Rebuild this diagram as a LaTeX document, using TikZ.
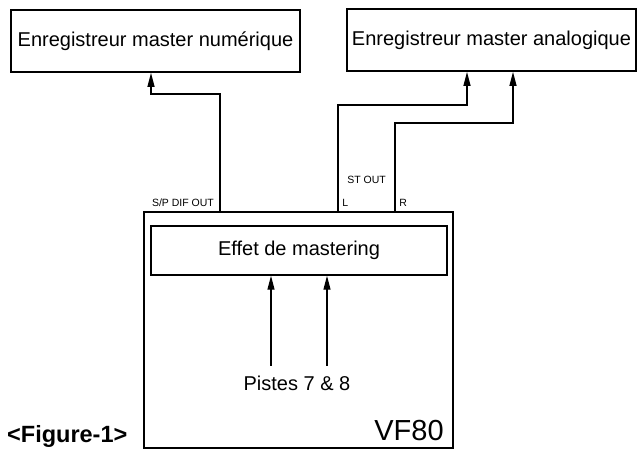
\documentclass[tikz,border=0pt]{standalone}
\usepackage{fontspec}
\setmainfont{Liberation Sans}
\usetikzlibrary{arrows.meta,positioning}

\begin{document}
\begin{tikzpicture}[
  x=1pt, y=1pt,
  font=\fontsize{20}{24}\selectfont,
  box/.style={draw, line width=1.8pt, inner sep=0pt, minimum width=289pt, minimum height=62pt},
  arr/.style={-{Triangle[length=14pt, width=7pt]}, line width=1.3pt},
  lbl/.style={font=\fontsize{10.5}{12}\selectfont, inner sep=0pt}
]
\useasboundingbox (0,0) rectangle (642,454);

% recorders
\node[box] (numbox) at (155.5,413) {Enregistreur master num\'erique};
\node[box] (anabox) at (491.5,414) {Enregistreur master analogique};

% VF80 unit
\node[draw, line width=1.8pt, minimum width=309pt, minimum height=236pt, inner sep=0pt] (vfbox) at (298.5,124) {};
\node[draw, line width=1.5pt, minimum width=296pt, minimum height=49pt, inner sep=0pt] (effbox) at (299,203.5) {Effet de mastering};
\node[anchor=base east, font=\fontsize{29}{32}\selectfont, inner sep=0pt] (vfname) at ([xshift=-10pt, yshift=8pt]vfbox.south east) {VF80};
\node[inner sep=0pt] (pistes) at (297,71) {Pistes 7 \& 8};
\node[anchor=base west, font=\fontsize{23.5}{26}\selectfont\bfseries, inner sep=0pt] (fig) at (7,11) {<Figure-1>};

% outputs
\coordinate (spdif) at ([xshift=77pt]vfbox.north west);
\coordinate (lout) at ([xshift=195pt]vfbox.north west);
\coordinate (rout) at ([xshift=252pt]vfbox.north west);
\node[lbl, anchor=base east] (spdiflbl) at ([xshift=-6pt, yshift=5pt]spdif) {S/P DIF OUT};
\node[lbl, anchor=base west] (llbl) at ([xshift=4pt, yshift=5pt]lout) {L};
\node[lbl, anchor=base west] (rlbl) at ([xshift=4pt, yshift=5pt]rout) {R};
\node[lbl, anchor=base west] (stlbl) at ([xshift=9pt, yshift=28pt]lout) {ST OUT};

\draw[arr] (spdif) -- ++(0,117) -| ([xshift=-4.5pt]numbox.south);
\draw[arr] (lout) -- ++(0,106) -| ([xshift=-24.5pt]anabox.south);
\draw[arr] (rout) -- ++(0,88) -| ([xshift=21.5pt]anabox.south);

% tracks into the effect
\foreach \dx in {-28,28}
  \draw[arr] ([xshift=\dx pt, yshift=-90pt]effbox.south) -- ([xshift=\dx pt]effbox.south);
\end{tikzpicture}
\end{document}
